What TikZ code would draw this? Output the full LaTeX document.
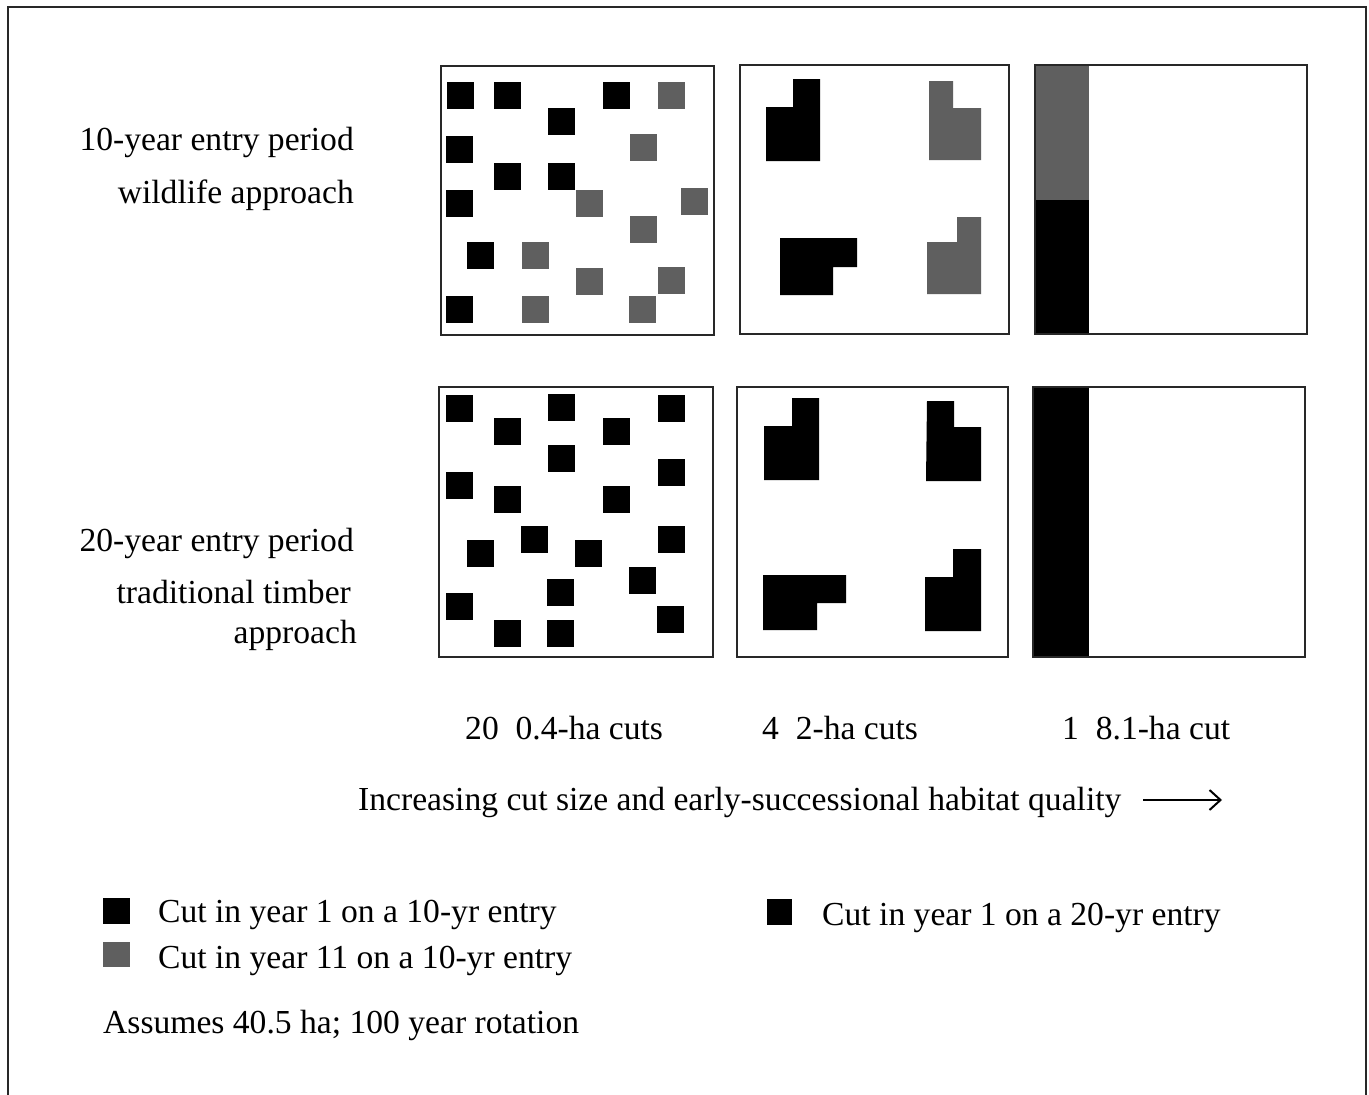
\documentclass[tikz,border=0pt]{standalone}
\usepackage{fontspec}
\setmainfont{Liberation Serif}
\usetikzlibrary{arrows.meta}
\definecolor{cutgray}{RGB}{95,95,95}
\definecolor{framegray}{RGB}{40,40,40}
\newcommand\cutsq[3]{\fill[#1] (#2,#3) rectangle ++(27,27);}
\begin{document}
\begin{tikzpicture}[x=1pt,y=-1pt,
  lbl/.style={inner sep=0pt,font=\fontsize{33.6}{40}\selectfont},
  panel/.style={draw=framegray,line width=1.8pt},
  frameline/.style={draw=framegray,line width=2pt},
  arrowline/.style={line width=2pt,-{Straight Barb[length=11pt,width=20pt,line width=2pt]}}]
\useasboundingbox (0,0) rectangle (1369,1095);
\fill[white] (0,0) rectangle (1369,1095);
% outer frame
\draw[frameline] (8,1100) -- (8,7) -- (1366,7) -- (1366,1100);

% ---- top row, panel 1 ----
\cutsq{black}{447}{82}\cutsq{black}{494}{82}\cutsq{black}{603}{82}
\cutsq{black}{548}{108}\cutsq{black}{446}{136}\cutsq{black}{494}{163}
\cutsq{black}{548}{163}\cutsq{black}{446}{190}\cutsq{black}{467}{242}
\cutsq{black}{446}{296}
\cutsq{cutgray}{658}{82}\cutsq{cutgray}{630}{134}\cutsq{cutgray}{576}{190}
\cutsq{cutgray}{681}{188}\cutsq{cutgray}{630}{216}\cutsq{cutgray}{522}{242}
\cutsq{cutgray}{576}{268}\cutsq{cutgray}{658}{267}\cutsq{cutgray}{522}{296}
\cutsq{cutgray}{629}{296}
\draw[panel] (441,66) rectangle (714,335);

% ---- top row, panel 2 ----
\fill[black] (793,79) -- (820,79) -- (820,161) -- (766,161) -- (766,107) -- (793,107) -- cycle;
\fill[cutgray] (929,81) -- (953,81) -- (953,108) -- (981,108) -- (981,160) -- (929,160) -- cycle;
\fill[black] (780,238) -- (857,238) -- (857,267) -- (833,267) -- (833,295) -- (780,295) -- cycle;
\fill[cutgray] (957,217) -- (981,217) -- (981,294) -- (927,294) -- (927,242) -- (957,242) -- cycle;
\draw[panel] (740,65) rectangle (1009,334);

% ---- top row, panel 3 ----
\fill[cutgray] (1035,65) rectangle (1089,200);
\fill[black] (1035,200) rectangle (1089,334);
\draw[panel] (1035,65) rectangle (1307,334);

% ---- bottom row, panel 1 ----
\cutsq{black}{446}{395}\cutsq{black}{548}{394}\cutsq{black}{658}{395}
\cutsq{black}{494}{418}\cutsq{black}{603}{418}\cutsq{black}{548}{445}
\cutsq{black}{658}{459}\cutsq{black}{446}{472}\cutsq{black}{494}{486}
\cutsq{black}{603}{486}\cutsq{black}{521}{526}\cutsq{black}{658}{526}
\cutsq{black}{467}{540}\cutsq{black}{575}{540}\cutsq{black}{629}{567}
\cutsq{black}{547}{579}\cutsq{black}{446}{593}\cutsq{black}{657}{606}
\cutsq{black}{494}{620}\cutsq{black}{547}{620}
\draw[panel] (439,387) rectangle (713,657);

% ---- bottom row, panel 2 ----
\fill[black] (792,398) -- (819,398) -- (819,480) -- (764,480) -- (764,426) -- (792,426) -- cycle;
\fill[black] (927,401) -- (954,401) -- (954,427) -- (981,427) -- (981,481) -- (926,481) -- cycle;
\fill[black] (763,575) -- (846,575) -- (846,603) -- (817,603) -- (817,630) -- (763,630) -- cycle;
\fill[black] (953,549) -- (981,549) -- (981,631) -- (925,631) -- (925,577) -- (953,577) -- cycle;
\draw[panel] (737,387) rectangle (1008,657);

% ---- bottom row, panel 3 ----
\fill[black] (1033,387) rectangle (1089,657);
\draw[panel] (1033,387) rectangle (1305,657);

% ---- row labels ----
\node[lbl,anchor=base east] (l1a) at (354,150) {10-year entry period};
\node[lbl,anchor=base east] (l1b) at (354,203) {wildlife approach};
\node[lbl,anchor=base east] (l2a) at (354,551) {20-year entry period};
\node[lbl,anchor=base east] (l2b) at (351,603) {traditional timber};
\node[lbl,anchor=base east] (l2c) at (357,643) {approach};

% ---- column labels ----
\node[lbl,anchor=base west] (c1) at (465,739) {20\ \ 0.4-ha cuts};
\node[lbl,anchor=base west] (c2) at (762,739) {4\ \ 2-ha cuts};
\node[lbl,anchor=base west] (c3) at (1062,739) {1\ \ 8.1-ha cut};

\node[lbl,anchor=base west] (incr) at (358,810) {Increasing cut size and early-successional habitat quality};
\coordinate (arrS) at (1143,800);
\coordinate (arrE) at (1222,800);
\draw[arrowline] (arrS) -- (arrE);

% ---- legend ----
\fill[black] (103,898) rectangle (130,924);
\fill[cutgray] (103,942) rectangle (130,967);
\fill[black] (767,899) rectangle (792,925);
\node[lbl,anchor=base west] (g1) at (158,922) {Cut in year 1 on a 10-yr entry};
\node[lbl,anchor=base west] (g2) at (158,968) {Cut in year 11 on a 10-yr entry};
\node[lbl,anchor=base west] (g3) at (822,925) {Cut in year 1 on a 20-yr entry};
\node[lbl,anchor=base west] (note) at (103,1033) {Assumes 40.5 ha; 100 year rotation};
\end{tikzpicture}
\end{document}
